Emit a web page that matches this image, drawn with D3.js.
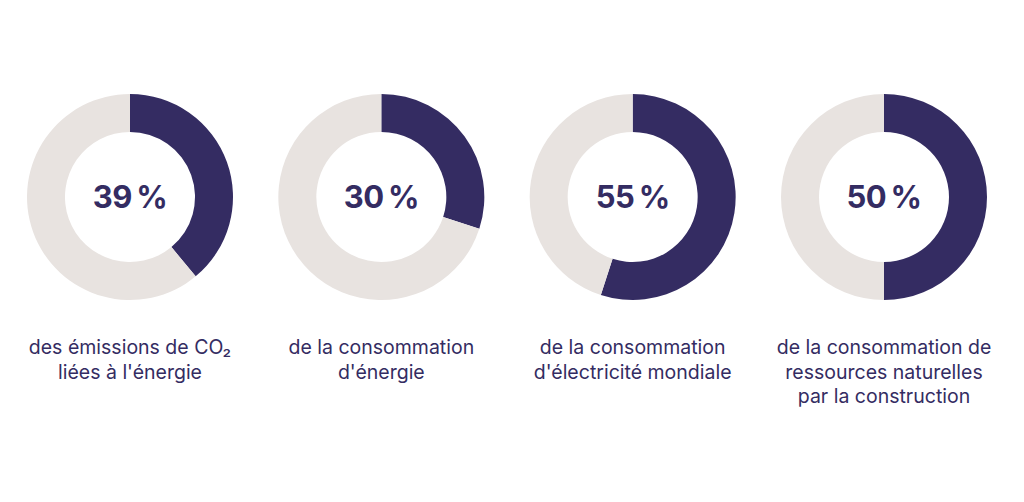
<!DOCTYPE html>
<html><head><meta charset="utf-8">
<script src="https://cdn.jsdelivr.net/npm/d3@7"></script>
<style>body{margin:0;background:#fff}</style>
</head><body>
<svg id="chart" width="1024" height="502"></svg>
<script>
// values
const percents = [39, 30, 55, 50];
const labelLines = [
  ["des émissions de CO₂", "liées à l'énergie"],
  ["de la consommation", "d'énergie"],
  ["de la consommation", "d'électricité mondiale"],
  ["de la consommation de", "ressources naturelles", "par la construction"]
];

const navy = "#342c62", grey = "#e8e3e0";
const svg = d3.select("#chart");

const x = d3.scalePoint().domain(d3.range(percents.length)).range([130, 884]);
const cy = 197;
const arc = d3.arc().innerRadius(65).outerRadius(103);
const pie = d3.pie().sort(null);

percents.forEach(function(p, i) {
  var g = svg.append("g").attr("transform", "translate(" + x(i) + "," + cy + ")");
  g.selectAll("path")
    .data(pie([p, 100 - p]))
    .enter().append("path")
    .attr("d", arc)
    .attr("fill", function(d, j) { return j === 0 ? navy : grey; });

  g.append("text")
    .attr("text-anchor", "middle")
    .attr("dy", "0.35em")
    .attr("font-family", "Inter, 'Noto Sans', sans-serif")
    .attr("font-weight", 700)
    .attr("font-size", 31)
    .attr("letter-spacing", -0.5)
    .attr("fill", navy)
    .text(p + "\u2009%");

  var t = svg.append("text")
    .attr("text-anchor", "middle")
    .attr("font-family", "Inter, 'Noto Sans', sans-serif")
    .attr("font-size", 19.5)
    .attr("fill", navy);
  labelLines[i].forEach(function(line, k) {
    t.append("tspan").attr("x", x(i)).attr("y", 354 + k * 24.5).text(line);
  });
});
</script>
</body></html>
